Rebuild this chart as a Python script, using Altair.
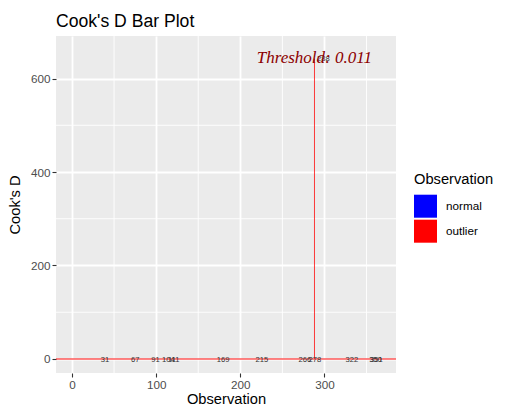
import altair as alt
import pandas as pd

# ---- data ----
outlier_obs = [31, 67, 91, 104, 111, 169, 215, 266, 278, 288, 322, 350, 351]
outlier_cd = [0.03, 0.02, 0.04, 0.03, 0.02, 0.05, 0.03, 0.04, 0.02, 643.0, 0.03, 0.02, 0.04]
status = ["outlier"] * len(outlier_obs)
threshold = 0.011
legend_domain = ["normal", "outlier"]
legend_colors = ["blue", "red"]
x_ticks = [0, 100, 200, 300]
y_ticks = [0, 200, 400, 600]
x_minor = [50, 150, 250, 350]
y_minor = [100, 300, 500]
x_domain = [-19, 385]
y_domain = [-30, 691]

bars = pd.DataFrame({"obs": outlier_obs, "cd": outlier_cd, "status": status,
                     "label": [str(o) for o in outlier_obs]})
minor_x = pd.DataFrame({"v": x_minor})
minor_y = pd.DataFrame({"v": y_minor})
thr = pd.DataFrame({"t": [threshold]})

xs = alt.Scale(domain=x_domain, nice=False, zero=False)
ys = alt.Scale(domain=y_domain, nice=False, zero=False)

x_axis = alt.Axis(values=x_ticks, title="Observation")
y_axis = alt.Axis(values=y_ticks, title="Cook's D")

gx = alt.Chart(minor_x).mark_rule(color="white", strokeWidth=0.9).encode(
    x=alt.X("v:Q", scale=xs, axis=x_axis))
gy = alt.Chart(minor_y).mark_rule(color="white", strokeWidth=0.9).encode(
    y=alt.Y("v:Q", scale=ys, axis=y_axis))

bar = alt.Chart(bars).mark_bar().transform_calculate(
    x0="datum.obs - 0.45", x1="datum.obs + 0.45"
).encode(
    x=alt.X("x0:Q", scale=xs, axis=x_axis),
    x2="x1:Q",
    y=alt.Y("cd:Q", scale=ys, axis=y_axis),
    y2=alt.datum(0),
    color=alt.Color("status:N", scale=alt.Scale(domain=legend_domain, range=legend_colors),
                    legend=alt.Legend(title="Observation", orient="none", legendX=358, legendY=136)),
)

rule = alt.Chart(thr).mark_rule(color="red", strokeWidth=1.5, opacity=0.65).encode(
    y=alt.Y("t:Q", scale=ys))

labels = alt.Chart(bars).mark_text(align="left", baseline="middle", dx=2.6, dy=1,
                                   fontSize=7.6, color="#333333", font="Liberation Sans").encode(
    x=alt.X("obs:Q", scale=xs), y=alt.Y("cd:Q", scale=ys), text="label:N")

ann = alt.Chart(thr).transform_calculate(
    lab="'Threshold: ' + format(datum.t, '.3f')"
).mark_text(align="right", baseline="middle", dx=-24,
            font="Liberation Serif", fontStyle="italic", fontSize=17,
            color="darkred").encode(
    x=alt.value(340), y=alt.value(22), text="lab:N")

chart = alt.layer(gx, gy, bar, rule, labels, ann).properties(
    width=340, height=337,
    title=alt.TitleParams("Cook's D Bar Plot", anchor="start", frame="group", fontSize=17.6,
                          fontWeight="normal", font="Liberation Sans", color="black", offset=5),
    padding={"left": 48, "top": 28, "right": 101, "bottom": 34},
    autosize=alt.AutoSizeParams(type="none"),
).configure_view(fill="#EBEBEB", stroke=None).configure_axis(
    grid=True, gridColor="white", gridWidth=1.8, domain=False,
    tickColor="#333333", tickWidth=1.1, tickSize=4,
    labelColor="#4D4D4D", labelFontSize=11.7, labelFont="Liberation Sans", labelPadding=2,
    titleColor="black", titleFontSize=14.7, titleFont="Liberation Sans", titleFontWeight="normal",
).configure_axisX(titlePadding=1).configure_axisY(titlePadding=8).configure_legend(
    titleFontSize=14.7, titleFont="Liberation Sans", titleFontWeight="normal", titleColor="black",
    labelFontSize=11.7, labelFont="Liberation Sans", labelColor="black",
    symbolType="square", symbolSize=529, symbolStrokeWidth=0, symbolOpacity=1,
    rowPadding=2, labelOffset=9, titlePadding=8, padding=0,
)

chart.save("out.html", embed_options={"renderer": "svg", "actions": False})
